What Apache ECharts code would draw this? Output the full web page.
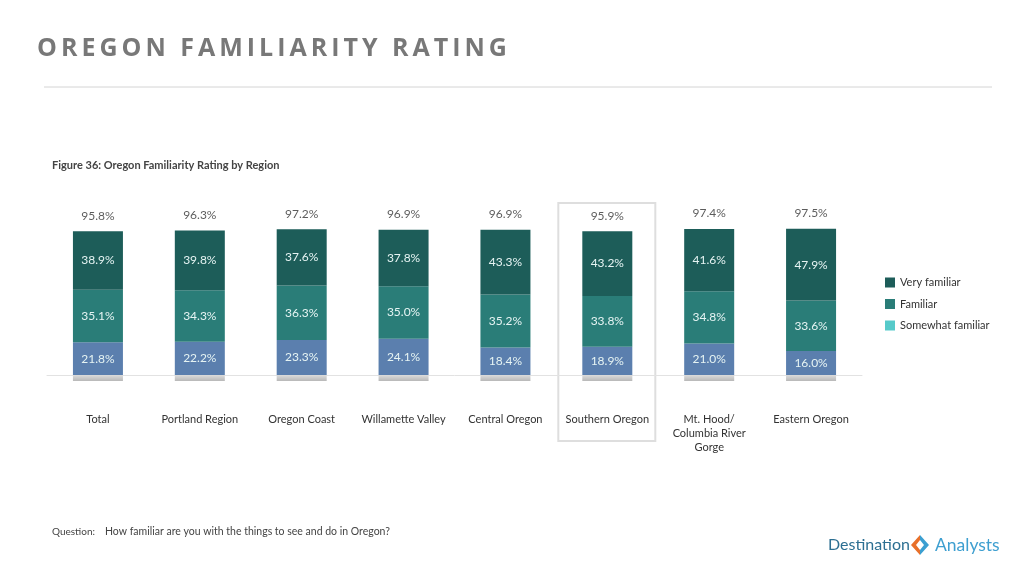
<!DOCTYPE html>
<html><head><meta charset="utf-8">
<script src="https://cdn.jsdelivr.net/npm/echarts@6/dist/echarts.min.js"></script>
<style>
html,body{margin:0;padding:0;background:#fff;}
#wrap{position:relative;width:1024px;height:576px;}
#chart{width:1024px;height:576px;}
#title{position:absolute;left:37px;top:29px;font:bold 25px 'Open Sans',sans-serif;letter-spacing:4px;color:#787878;white-space:nowrap;}
</style></head><body>
<div id="wrap">
<div id="chart"></div>
<div id="title">OREGON FAMILIARITY RATING</div>
</div>
<script>
const categories = ['Total','Portland Region','Oregon Coast','Willamette Valley','Central Oregon','Southern Oregon','Mt. Hood/\nColumbia River\nGorge','Eastern Oregon'];
const veryFamiliar = [38.9, 39.8, 37.6, 37.8, 43.3, 43.2, 41.6, 47.9];
const familiar     = [35.1, 34.3, 36.3, 35.0, 35.2, 33.8, 34.8, 33.6];
const somewhat     = [21.8, 22.2, 23.3, 24.1, 18.4, 18.9, 21.0, 16.0];
const totals       = [95.8, 96.3, 97.2, 96.9, 96.9, 95.9, 97.4, 97.5];
const baseShadow   = [-4, -4, -4, -4, -4, -4, -4, -4];
const highlighted  = 'Southern Oregon';

const FONT = 'Lato, sans-serif';
const chart = echarts.init(document.getElementById('chart'));
const pct = v => v.toFixed(1) + '%';
const insideLabel = {show:true, position:'inside', color:'#e6f4f3', fontSize:12, fontFamily:FONT, formatter:p=>pct(p.value)};

chart.setOption({
  animation:false,
  backgroundColor:'#fff',
  textStyle:{fontFamily:FONT},
  grid:{left:47, right:162, top:225, bottom:195},
  legend:{
    orient:'vertical', left:880, top:272, itemWidth:10, itemHeight:10, itemGap:10.5, icon:'rect',
    textStyle:{fontSize:11, color:'#333', fontFamily:FONT},
    data:[{name:'Very familiar'},{name:'Familiar'},{name:'Somewhat familiar', itemStyle:{color:'#56caca'}}]
  },
  xAxis:{
    type:'category', data:categories,
    axisLine:{show:true, onZero:true, lineStyle:{color:'#e2e2e2', width:1}},
    axisTick:{show:false},
    axisLabel:{color:'#333', fontSize:11, lineHeight:14, margin:31, interval:0, fontFamily:FONT}
  },
  yAxis:{type:'value', min:-4, max:100, show:false, splitLine:{show:false}},
  series:[
    {name:'base', type:'bar', stack:'s', data:baseShadow, barWidth:50,
      itemStyle:{color:new echarts.graphic.LinearGradient(0,0,0,1,[{offset:0,color:'#dcdcdc'},{offset:1,color:'#b8b8b8'}])}, label:{show:false}},
    {name:'Somewhat familiar', type:'bar', stack:'s', data:somewhat, barWidth:50, itemStyle:{color:'#5b7fae'}, label:insideLabel},
    {name:'Familiar', type:'bar', stack:'s', data:familiar, barWidth:50, itemStyle:{color:'#2a7d78'}, label:insideLabel},
    {name:'Very familiar', type:'bar', stack:'s', data:veryFamiliar, barWidth:50, itemStyle:{color:'#1d5d59'}, label:insideLabel},
    {name:'Total', type:'scatter', data:totals, symbolSize:1, itemStyle:{color:'rgba(0,0,0,0)'},
      label:{show:true, position:'top', distance:9, color:'#333', fontSize:12, fontFamily:FONT, formatter:p=>pct(p.value)}}
  ]
});

const cx = chart.convertToPixel({xAxisIndex:0}, highlighted);
chart.setOption({
  graphic:[
    {type:'line', shape:{x1:44, y1:87, x2:992, y2:87}, style:{stroke:'#d4d4d4', lineWidth:1}},
    {type:'text', x:52, y:165, style:{text:'Figure 36: Oregon Familiarity Rating by Region', font:'bold 11px '+FONT, fill:'#444', textVerticalAlign:'middle'}},
    {type:'rect', shape:{x:cx-49, y:203, width:97, height:238}, style:{fill:'none', stroke:'#dedede', lineWidth:2}, z:-1},
    {type:'text', x:52, y:532, style:{text:'Question:', font:'10px '+FONT, fill:'#444', textVerticalAlign:'middle'}},
    {type:'text', x:105, y:532, style:{text:'How familiar are you with the things to see and do in Oregon?', font:'10.5px '+FONT, fill:'#444', textVerticalAlign:'middle'}},
    {type:'text', x:828, y:545, style:{text:'Destination', font:'16px '+FONT, fill:'#2c6f92', textVerticalAlign:'middle'}},
    {type:'polygon', shape:{points:[[920,535],[911,545],[920,555],[920,550],[916,545],[920,540]]}, style:{fill:'#e8702a'}},
    {type:'polygon', shape:{points:[[920,535],[929,545],[920,555],[920,550],[924,545],[920,540]]}, style:{fill:'#3b9fd1'}},
    {type:'text', x:935, y:545, style:{text:'Analysts', font:'17.5px '+FONT, fill:'#3e9fd0', textVerticalAlign:'middle'}}
  ]
});
</script>
</body></html>
